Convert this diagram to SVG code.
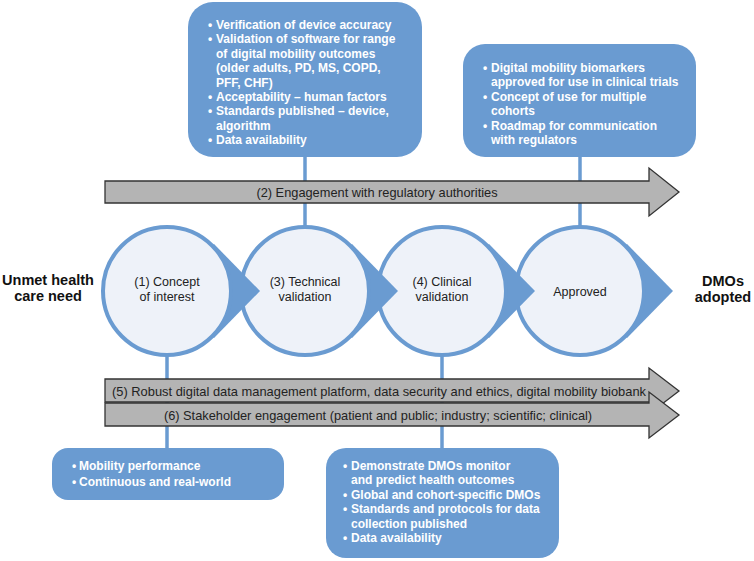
<svg xmlns="http://www.w3.org/2000/svg" width="754" height="561" viewBox="0 0 754 561">
<style>
.box{fill:#6A9BD1}
.bt{font-family:"Liberation Sans",Arial,sans-serif;font-size:12px;font-weight:bold;fill:#fff}
.conn{stroke:#6A9BD1;stroke-width:3.5;fill:none}
.circ{fill:#EEF2F9;stroke:#6A9BD1;stroke-width:4}
.tri{fill:#6A9BD1}
.ct{font-family:"Liberation Sans",Arial,sans-serif;font-size:12.5px;fill:#222;text-anchor:middle}
.side{font-family:"Liberation Sans",Arial,sans-serif;font-size:14.5px;font-weight:bold;fill:#111;text-anchor:middle}
.arr{fill:#B4B4B4;stroke:#333;stroke-width:1.3}
.at{font-family:"Liberation Sans",Arial,sans-serif;font-size:12.8px;fill:#222;text-anchor:middle}
</style>
<rect width="754" height="561" fill="#fff"/>
<g id="connectors">
<line class="conn" x1="305" y1="150" x2="305" y2="228"/>
<line class="conn" x1="580" y1="150" x2="580" y2="228"/>
<line class="conn" x1="167" y1="354" x2="167" y2="455"/>
<line class="conn" x1="442" y1="354" x2="442" y2="455"/>
</g>
<g id="box-technical">
<rect class="box" x="188" y="2" width="234" height="155" rx="25"/>
<text class="bt">
<tspan x="208" y="29">•</tspan><tspan x="216" y="29">Verification of device accuracy</tspan>
<tspan x="208" y="43.4">•</tspan><tspan x="216" y="43.4">Validation of software for range</tspan>
<tspan x="216" y="57.8">of digital mobility outcomes</tspan>
<tspan x="216" y="72.2">(older adults, PD, MS, COPD,</tspan>
<tspan x="216" y="86.6">PFF, CHF)</tspan>
<tspan x="208" y="101">•</tspan><tspan x="216" y="101">Acceptability – human factors</tspan>
<tspan x="208" y="115.4">•</tspan><tspan x="216" y="115.4">Standards published – device,</tspan>
<tspan x="216" y="129.8">algorithm</tspan>
<tspan x="208" y="144.2">•</tspan><tspan x="216" y="144.2">Data availability</tspan>
</text>
</g>
<g id="box-approved">
<rect class="box" x="463" y="44" width="233" height="113" rx="22"/>
<text class="bt">
<tspan x="483" y="72">•</tspan><tspan x="491" y="72">Digital mobility biomarkers</tspan>
<tspan x="491" y="86.4">approved for use in clinical trials</tspan>
<tspan x="483" y="100.8">•</tspan><tspan x="491" y="100.8">Concept of use for multiple</tspan>
<tspan x="491" y="115.2">cohorts</tspan>
<tspan x="483" y="129.6">•</tspan><tspan x="491" y="129.6">Roadmap for communication</tspan>
<tspan x="491" y="144">with regulators</tspan>
</text>
</g>
<g id="box-concept">
<rect class="box" x="52" y="448" width="232" height="52" rx="16"/>
<text class="bt">
<tspan x="72" y="470">•</tspan><tspan x="79" y="470">Mobility performance</tspan>
<tspan x="72" y="486">•</tspan><tspan x="79" y="486">Continuous and real-world</tspan>
</text>
</g>
<g id="box-clinical">
<rect class="box" x="326" y="448" width="233" height="110" rx="20"/>
<text class="bt">
<tspan x="343" y="470">•</tspan><tspan x="351" y="470">Demonstrate DMOs monitor</tspan>
<tspan x="351" y="484.4">and predict health outcomes</tspan>
<tspan x="343" y="498.8">•</tspan><tspan x="351" y="498.8">Global and cohort-specific DMOs</tspan>
<tspan x="343" y="513.2">•</tspan><tspan x="351" y="513.2">Standards and protocols for data</tspan>
<tspan x="351" y="527.6">collection published</tspan>
<tspan x="343" y="542">•</tspan><tspan x="351" y="542">Data availability</tspan>
</text>
</g>
<g id="arrow-regulatory">
<path class="arr" d="M105,181 H649 V168 L679,192 L649,216 V203 H105 Z"/>
<text class="at" x="377" y="196.5">(2) Engagement with regulatory authorities</text>
</g>
<g id="step-approved">
<polygon class="tri" points="580,291 627,244 673,291 627,338"/>
<circle class="circ" cx="580" cy="291" r="64"/>
<text class="ct" x="580" y="295.5">Approved</text>
</g>
<g id="step-clinical">
<polygon class="tri" points="442,291 489,244 535,291 489,338"/>
<circle class="circ" cx="442" cy="291" r="64"/>
<text class="ct"><tspan x="442" y="286">(4) Clinical</tspan><tspan x="442" y="300.5">validation</tspan></text>
</g>
<g id="step-technical">
<polygon class="tri" points="305,291 352,244 398,291 352,338"/>
<circle class="circ" cx="305" cy="291" r="64"/>
<text class="ct"><tspan x="305" y="286">(3) Technical</tspan><tspan x="305" y="300.5">validation</tspan></text>
</g>
<g id="step-concept">
<polygon class="tri" points="167,291 214,244 260,291 214,338"/>
<circle class="circ" cx="167" cy="291" r="64"/>
<text class="ct"><tspan x="167" y="286">(1) Concept</tspan><tspan x="167" y="300.5">of interest</tspan></text>
</g>
<g id="label-unmet">
<text class="side"><tspan x="48" y="285">Unmet health</tspan><tspan x="48" y="301">care need</tspan></text>
</g>
<g id="label-adopted">
<text class="side"><tspan x="723" y="286">DMOs</tspan><tspan x="723" y="302">adopted</tspan></text>
</g>
<g id="arrow-data">
<path class="arr" d="M105,379 H649 V368 L679,391 L649,414 V402 H105 Z"/>
<text class="at" x="379" y="396" textLength="534" lengthAdjust="spacingAndGlyphs">(5) Robust digital data management platform, data security and ethics, digital mobility biobank</text>
</g>
<g id="arrow-stakeholder">
<path class="arr" d="M105,403 H649 V392 L679,415 L649,438 V426 H105 Z"/>
<text class="at" x="378" y="419.5">(6) Stakeholder engagement (patient and public; industry; scientific; clinical)</text>
</g>
</svg>
